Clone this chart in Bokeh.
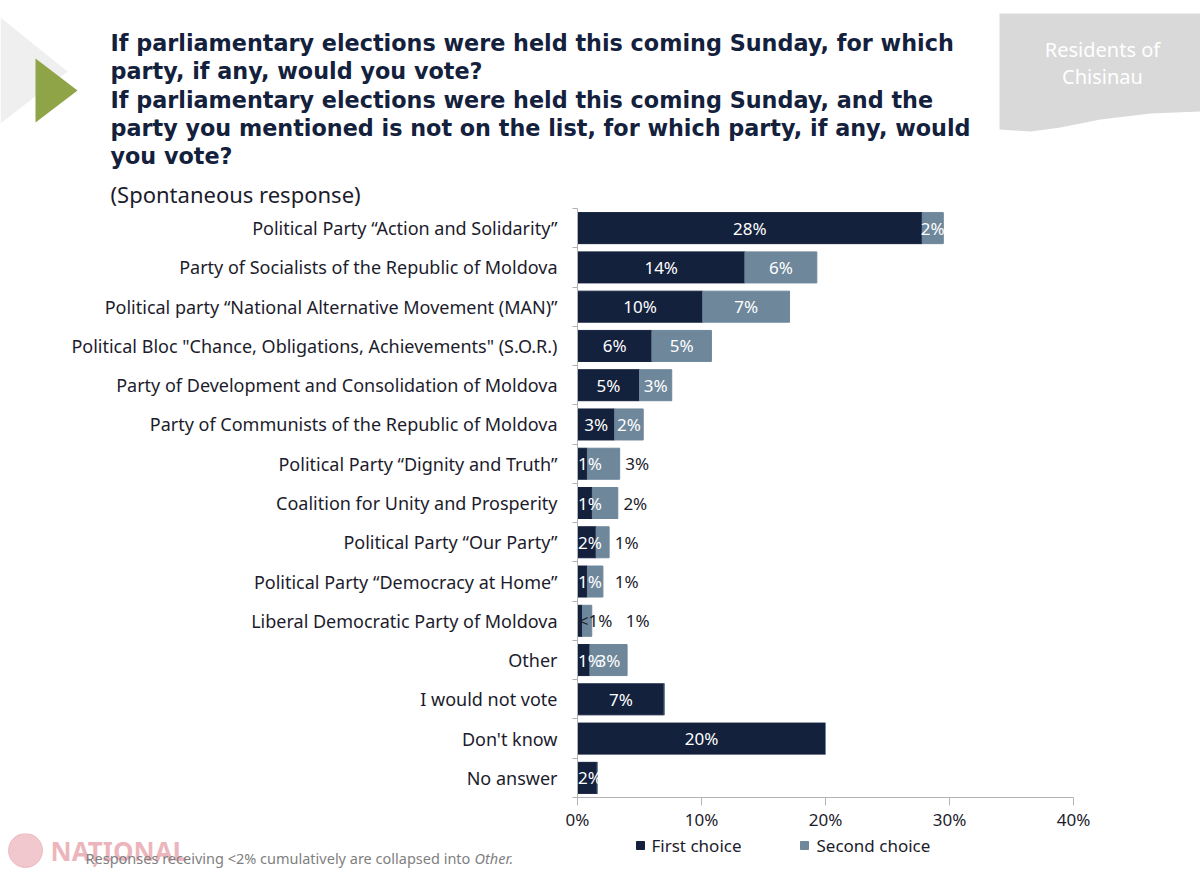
from bokeh.plotting import figure
from bokeh.layouts import column
from bokeh.models import (ColumnDataSource, Range1d, LinearAxis, FixedTicker,
                          CustomJSTickFormatter, LabelSet)
from bokeh.core.properties import value
from bokeh.embed import file_html
from bokeh.resources import INLINE

# categories, top to bottom
parties = [
    "Political Party \u201cAction and Solidarity\u201d",
    "Party of Socialists of the Republic of Moldova",
    "Political party \u201cNational Alternative Movement (MAN)\u201d",
    "Political Bloc \"Chance, Obligations, Achievements\" (S.O.R.)",
    "Party of Development and Consolidation of Moldova",
    "Party of Communists of the Republic of Moldova",
    "Political Party \u201cDignity and Truth\u201d",
    "Coalition for Unity and Prosperity",
    "Political Party \u201cOur Party\u201d",
    "Political Party \u201cDemocracy at Home\u201d",
    "Liberal Democratic Party of Moldova",
    "Other",
    "I would not vote",
    "Don't know",
    "No answer",
]
first_choice = [27.8, 13.5, 10.1, 6.0, 5.0, 3.0, 0.8, 1.2, 1.5, 0.8, 0.4, 1.0, 7.0, 20.0, 1.6]
second_choice = [1.7, 5.8, 7.0, 4.8, 2.6, 2.3, 2.6, 2.05, 1.05, 1.25, 0.75, 3.0, 0, 0, 0]
first_labels = ["28%", "14%", "10%", "6%", "5%", "3%", "1%", "1%", "2%", "1%", "<1%", "1%", "7%", "20%", "2%"]
second_labels = ["2%", "6%", "7%", "5%", "3%", "2%", "3%", "2%", "1%", "1%", "1%", "3%", "", "", ""]
x_ticks = [0, 10, 20, 30, 40]
series_names = ["First choice", "Second choice"]

title_lines = [
    "If parliamentary elections were held this coming Sunday, for which",
    "party, if any, would you vote?",
    "If parliamentary elections were held this coming Sunday, and the",
    "party you mentioned is not on the list, for which party, if any, would",
    "you vote?",
]
subtitle = "(Spontaneous response)"
box_text = ["Residents of", "Chisinau"]
footnote = "Responses receiving <2% cumulatively are collapsed into"

DARK = "#14213d"
LIGHT = "#6e879b"
TEXT = "#1c1c2c"
FONT = "Noto Sans"
W = 1200
HEAD_H, MAIN_H, FOOT_H = 208, 625, 38
FL, FR = 577, 1073     # frame edges in px


def blank(h, top):
    # a figure whose data units are page pixels, y growing downwards
    f = figure(width=W, height=h, x_range=Range1d(0, W), y_range=Range1d(top + h, top),
               output_backend="svg", toolbar_location=None, x_axis_location=None,
               y_axis_location=None, min_border=0)
    f.frame_align = False
    f.outline_line_color = None
    f.grid.grid_line_color = None
    return f


def put_text(f, x, y, text, size, color, align="left", style="normal", font=FONT, alpha=1.0):
    f.text(x=[x], y=[y], text=[text], text_font=value(font), text_font_size=size,
           text_font_style=style, text_color=color, text_align=align,
           text_baseline="middle", text_alpha=alpha)


# ---- header
head = blank(HEAD_H, 0)
head.patch([0, 67, 0], [17, 71, 123], fill_color="#efefef", line_color=None)
head.patch([35, 77, 35], [58, 90, 122], fill_color="#8ea446", line_color=None)
head.patch([999, 1200, 1200, 1150, 1100, 1060, 1030, 999],
           [13, 13, 111, 113, 119, 127, 131, 129], fill_color="#d9d9d9", line_color=None)
for txt, yy in zip(box_text, [49, 76]):
    put_text(head, 1102, yy, txt, "20px", "white", align="center")
for txt, yy in zip(title_lines, [42, 70, 99, 127, 155]):
    put_text(head, 110, yy, txt, "22.3px", DARK, style="bold", font="DejaVu Sans")
put_text(head, 110, 193, subtitle, "22px", TEXT)

# ---- main chart
n = len(parties)
rows = [n - i - 0.5 for i in range(n)]   # row centres, top row highest

half = [len(t) * 0.45 for t in first_labels]
first_x = [max(f / 2, h + 0.1) for f, h in zip(first_choice, half)]
totals = [f + s for f, s in zip(first_choice, second_choice)]
first_col = ["white" if x < t else TEXT for x, t in zip(first_x, totals)]

in_y, in_x, in_t, out_y, out_x, out_t = [], [], [], [], [], []
for i, (f, s, t) in enumerate(zip(first_choice, second_choice, second_labels)):
    if not t:
        continue
    if f < 2 and s < 2.8:
        out_y.append(rows[i])
        out_x.append(max(f + s + 0.45, first_x[i] + half[i] + 1.1))
        out_t.append(t)
    else:
        in_y.append(rows[i])
        in_x.append(f + s / 2)
        in_t.append(t)

bars = ColumnDataSource(dict(y=rows, first=first_choice, total=totals))

p = figure(width=W, height=MAIN_H, y_range=Range1d(0, n), x_range=Range1d(0, 40),
           output_backend="svg", toolbar_location=None, y_axis_location=None,
           min_border_left=FL, min_border_right=W - FR, min_border_top=0, min_border_bottom=33)
p.frame_align = False
p.outline_line_color = None
p.grid.grid_line_color = None

p.hbar(y="y", left=0, right="first", height=0.79, source=bars, color=DARK)
p.hbar(y="y", left="first", right="total", height=0.79, source=bars, color=LIGHT)

ax = p.xaxis[0]
ax.ticker = FixedTicker(ticks=x_ticks)
ax.formatter = CustomJSTickFormatter(code="return tick + '%'")
ax.axis_line_color = "#b3b3b3"
ax.major_tick_line_color = "#b3b3b3"
ax.major_tick_in = 0
ax.major_tick_out = 8
ax.minor_tick_line_color = None
ax.major_label_text_font = FONT
ax.major_label_text_font_size = "17px"
ax.major_label_text_color = TEXT
ax.major_label_standoff = 2

# boundary ticks on the y axis, then the category names
edge_axis = LinearAxis(ticker=FixedTicker(ticks=list(range(n + 1))),
                       formatter=CustomJSTickFormatter(code="return ''"))
edge_axis.axis_line_color = "#b3b3b3"
edge_axis.major_tick_line_color = "#b3b3b3"
edge_axis.major_tick_in = 0
edge_axis.major_tick_out = 5
edge_axis.minor_tick_line_color = None
edge_axis.major_label_standoff = 0
p.add_layout(edge_axis, "left")

cat_axis = LinearAxis(ticker=FixedTicker(ticks=rows),
                      major_label_overrides={r: name for r, name in zip(rows, parties)})
cat_axis.axis_line_color = None
cat_axis.major_tick_line_color = None
cat_axis.minor_tick_line_color = None
cat_axis.major_tick_in = 0
cat_axis.major_tick_out = 0
cat_axis.major_label_text_font = FONT
cat_axis.major_label_text_font_size = "18px"
cat_axis.major_label_text_color = TEXT
cat_axis.major_label_standoff = 15
p.add_layout(cat_axis, "left")

lab = dict(text_baseline="middle", text_font=value(FONT), text_font_size=value("17px"))
p.add_layout(LabelSet(x="x", y="y", text="t", text_color="c", text_align="center",
                      source=ColumnDataSource(dict(x=first_x, y=rows, t=first_labels, c=first_col)),
                      **lab))
p.add_layout(LabelSet(x="x", y="y", text="t", text_color="white", text_align="center",
                      source=ColumnDataSource(dict(x=in_x, y=in_y, t=in_t)), **lab))
p.add_layout(LabelSet(x="x", y="y", text="t", text_color=TEXT, text_align="left",
                      source=ColumnDataSource(dict(x=out_x, y=out_y, t=out_t)), **lab))

# ---- footer: legend, watermark, footnote
foot = blank(FOOT_H, HEAD_H + MAIN_H)
foot.scatter([25], [850], size=34, color="#e7a3ac", alpha=0.6)
put_text(foot, 50, 850, "NA\u021aIONAL", "26px", "#e4949e", style="bold", alpha=0.7)
put_text(foot, 85, 857, footnote, "14.5px", "#7f7f7f")
put_text(foot, 474, 857, "Other.", "14.5px", "#7f7f7f", style="italic")
foot.rect([640, 804], [845, 845], width=8, height=8, color=[DARK, LIGHT])
put_text(foot, 651, 845, series_names[0], "17px", TEXT)
put_text(foot, 816, 845, series_names[1], "17px", TEXT)

layout = column(head, p, foot, spacing=0)
open("out.html", "w").write(file_html(layout, INLINE))
